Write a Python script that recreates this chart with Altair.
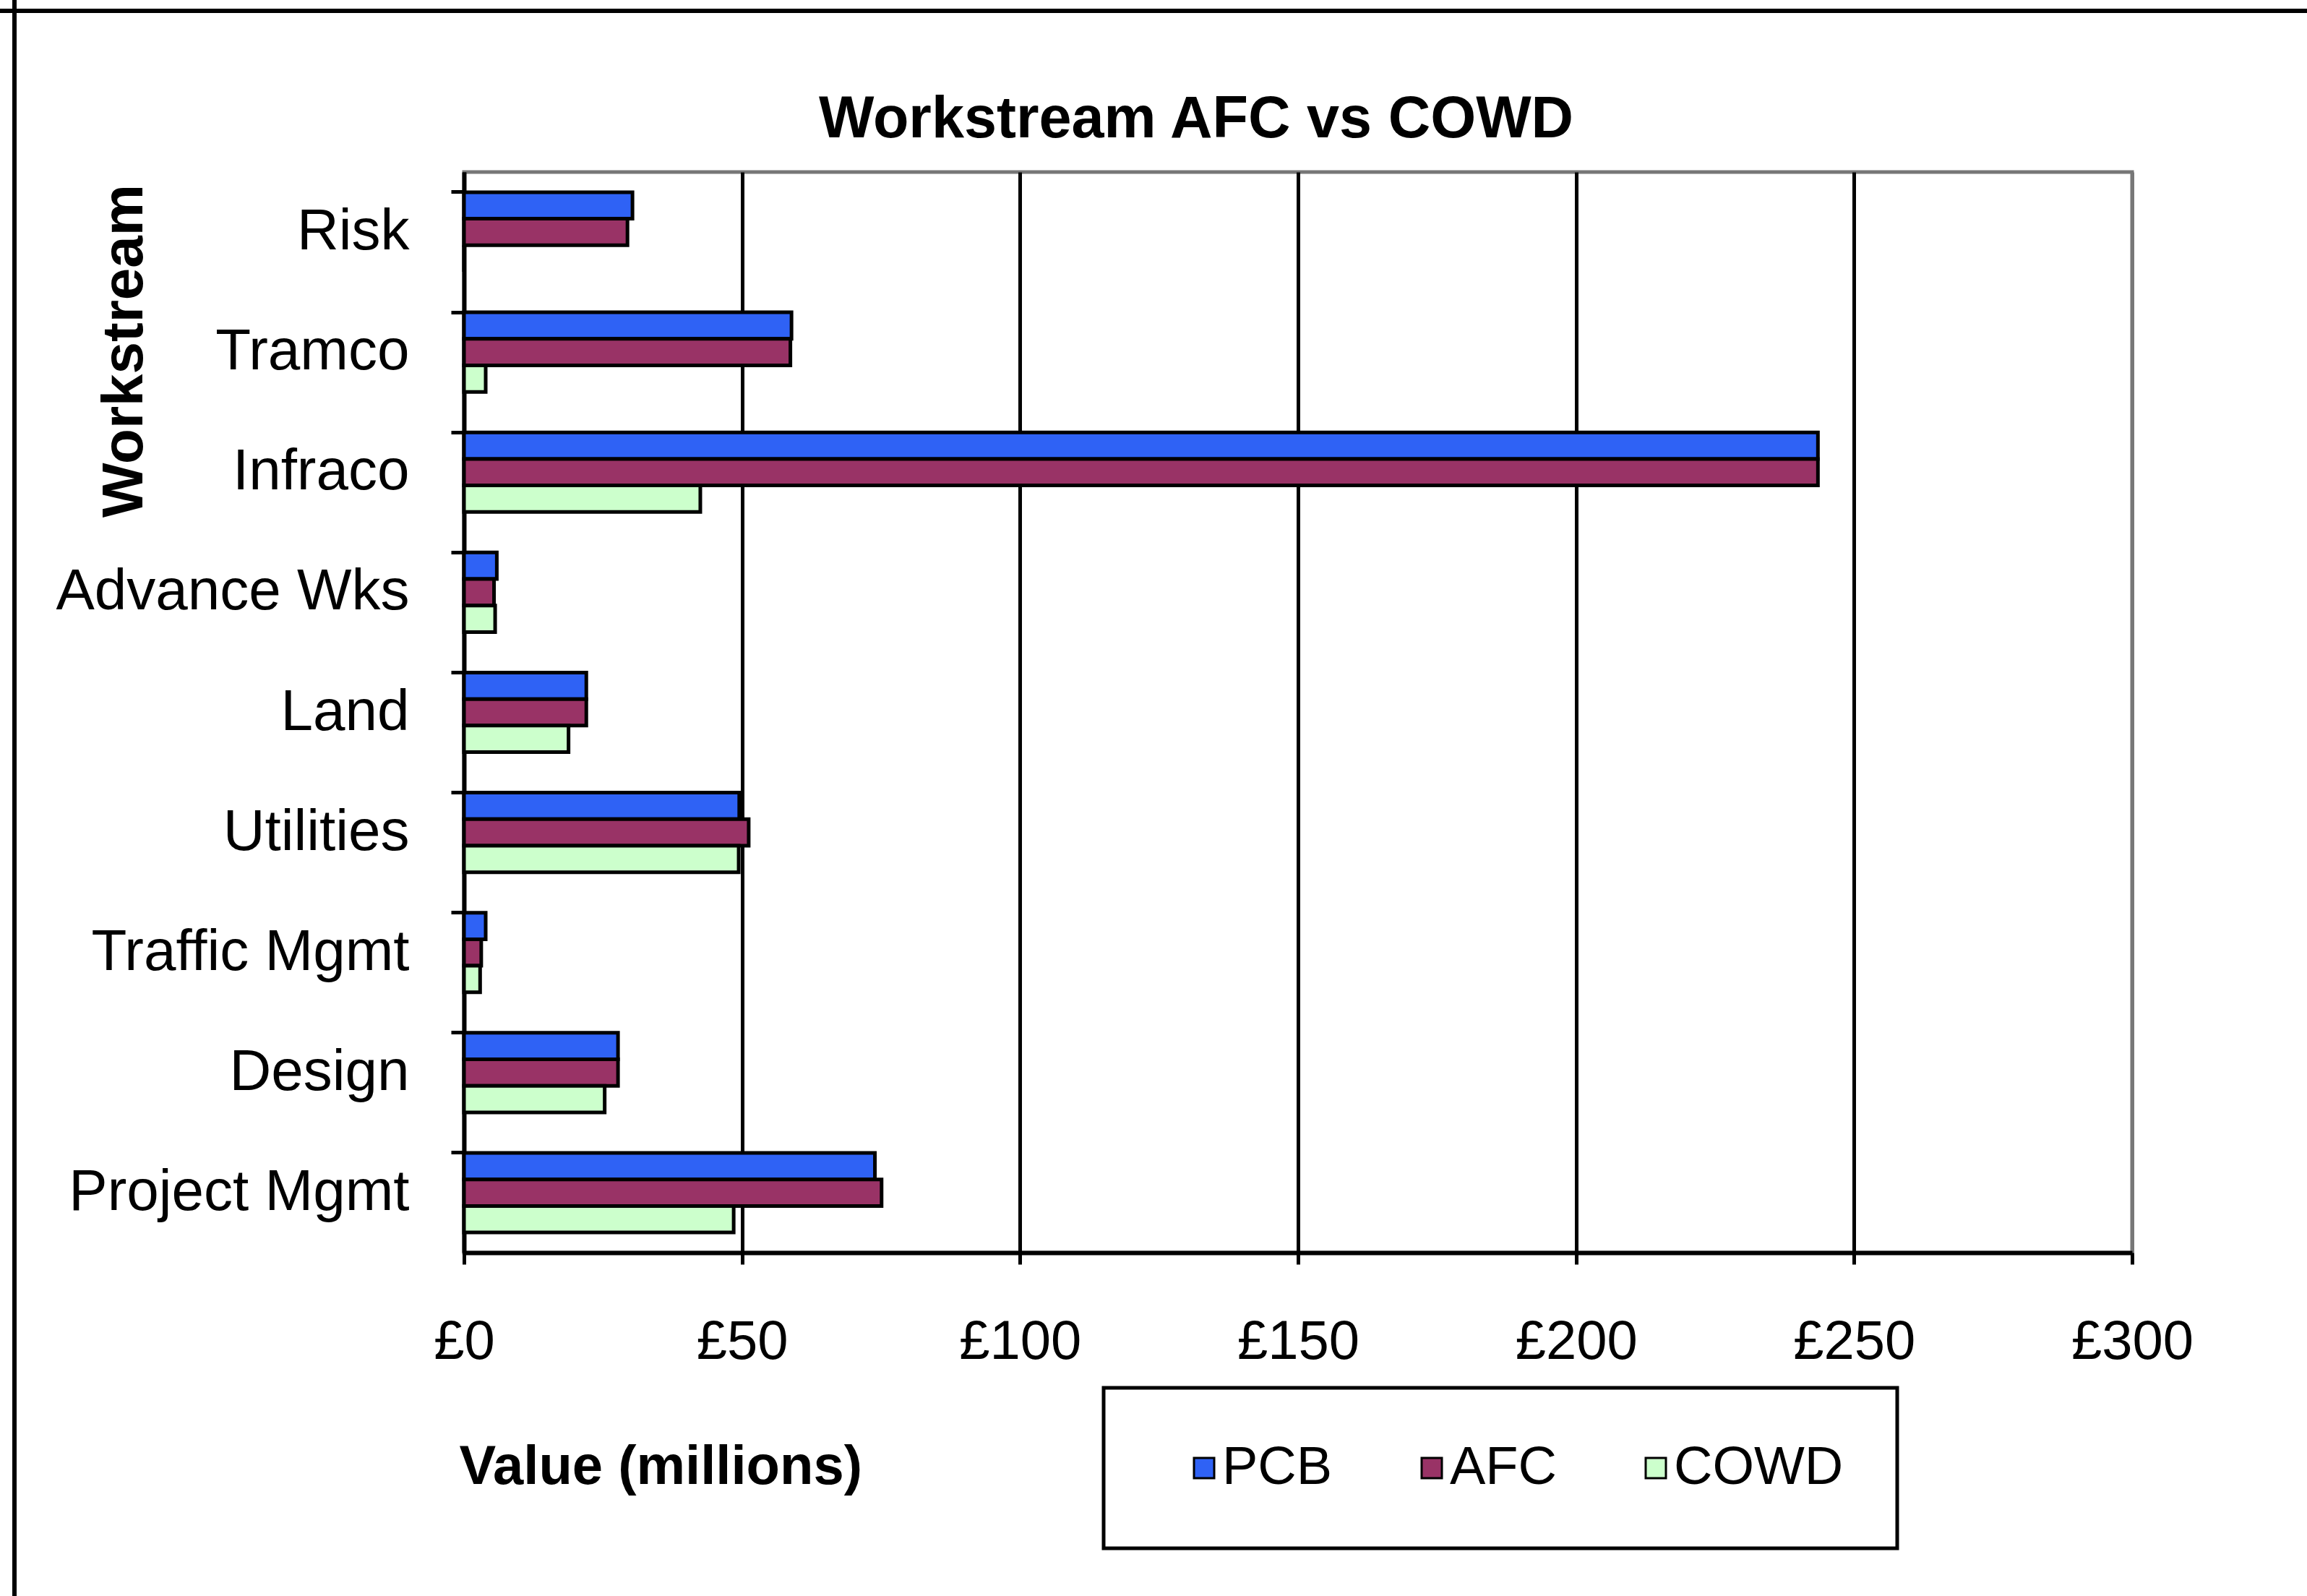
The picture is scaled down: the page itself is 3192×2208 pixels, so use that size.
import altair as alt
import pandas as pd

categories = ["Risk", "Tramco", "Infraco", "Advance Wks", "Land", "Utilities",
              "Traffic Mgmt", "Design", "Project Mgmt"]
series = ["PCB", "AFC", "COWD"]
pcb = [30.3, 58.9, 243.5, 5.9, 22.0, 49.5, 3.9, 27.7, 73.9]
afc = [29.4, 58.7, 243.5, 5.4, 22.0, 51.2, 3.1, 27.7, 75.1]
cowd = [0.0, 3.9, 42.5, 5.6, 18.8, 49.4, 2.9, 25.3, 48.5]
colors = ["#2F62F5", "#993366", "#CCFFCC"]
x_ticks = [0, 50, 100, 150, 200, 250, 300]

rows = []
for s, vals in zip(series, [pcb, afc, cowd]):
    for c, v in zip(categories, vals):
        rows.append({"category": c, "series": s, "value": v})
df = pd.DataFrame(rows)

FONT = "Liberation Sans, Arial, sans-serif"

base = alt.Chart(df)

bars = base.mark_bar(stroke="black", strokeWidth=5).encode(
    x=alt.X(
        "value:Q",
        scale=alt.Scale(domain=[0, 300], nice=False, zero=True),
        axis=alt.Axis(
            values=x_ticks,
            labelExpr="'£' + datum.value",
            labelFont=FONT, labelFontSize=76, labelColor="black",
            labelPadding=70, labelFlush=False, labelOverlap=False,
            tickSize=16, tickWidth=5, tickColor="black",
            domainColor="black", domainWidth=6,
            grid=True, gridWidth=5,
            gridColor={"condition": {"test": "datum.value === 300", "value": "#777777"}, "value": "black"},
            title="Value (millions)",
            titleFont=FONT, titleFontSize=76, titleFontWeight="bold", titleColor="black",
            titleAlign="left", titleBaseline="alphabetic",
            titleX=-7, titleY=319,
        ),
    ),
    y=alt.Y(
        "category:N",
        sort=categories,
        scale=alt.Scale(paddingInner=0.337, paddingOuter=0.168),
        axis=alt.Axis(
            orient="left",
            labelFont=FONT, labelFontSize=80, labelColor="black",
            labelPadding=58, labelLimit=0,
            tickSize=18, tickOpacity=0,
            domainColor="black", domainWidth=6,
            grid=False,
            title="Workstream",
            titleFont=FONT, titleFontSize=80, titleFontWeight="bold", titleColor="black",
            titleAngle=270, titleAlign="center", titleBaseline="alphabetic",
            titleX=-446, titleY=247,
        ),
    ),
    yOffset=alt.YOffset("series:N", sort=series,
                        scale=alt.Scale(paddingInner=0, paddingOuter=0)),
    color=alt.Color(
        "series:N", sort=series,
        scale=alt.Scale(domain=series, range=colors),
        legend=alt.Legend(
            title=None, orient="none", direction="horizontal",
            legendX=885, legendY=1682,
            symbolType="square", symbolSize=784,
            symbolStrokeColor="black", symbolStrokeWidth=3,
            symbolOffset=28,
            labelFont=FONT, labelFontSize=74, labelColor="black",
            labelLimit=0,
            labelOffset={"expr": "-12"}, gridAlign="each", columnPadding=72,
            padding=74, strokeColor="black", fillColor="white",
        ),
    ),
)

tick_layer = base.mark_bar(opacity=0).encode(
    y=alt.Y(
        "category:N",
        sort=categories,
        scale=alt.Scale(paddingInner=0.337, paddingOuter=0.168),
        axis=alt.Axis(
            orient="left", bandPosition=0,
            labels=False, domain=False, grid=False, title=None,
            ticks=True, tickSize=18, tickWidth=5, tickColor="black",
        ),
    ),
)

frame_df = pd.DataFrame({"k": [0]})
frame_left = alt.Chart(frame_df).mark_rule(color="black", strokeWidth=6).encode(
    x=alt.value(-622), y=alt.value(-238), y2=alt.value(1970)
)
frame_top = alt.Chart(frame_df).mark_rule(color="black", strokeWidth=6).encode(
    x=alt.value(-642), x2=alt.value(2550), y=alt.value(-223)
)

chart = alt.layer(bars, tick_layer, frame_left, frame_top).resolve_axis(
    y="independent"
).resolve_scale(y="shared").properties(
    width=2308,
    height=1495,
    background="white",
    autosize=alt.AutoSizeParams(type="none"),
    padding={"left": 642, "top": 238, "right": 242, "bottom": 475},
    title=alt.TitleParams(
        "Workstream AFC vs COWD",
        font=FONT, fontSize=81, fontWeight="bold", color="black",
        anchor="middle", frame="group", dx=-141, dy=240, offset=30,
    ),
).configure_view(stroke="#777777", strokeWidth=5).configure_legend(
    strokeWidth=5
)

chart.save("out.html", embed_options={"renderer": "svg", "actions": False})
